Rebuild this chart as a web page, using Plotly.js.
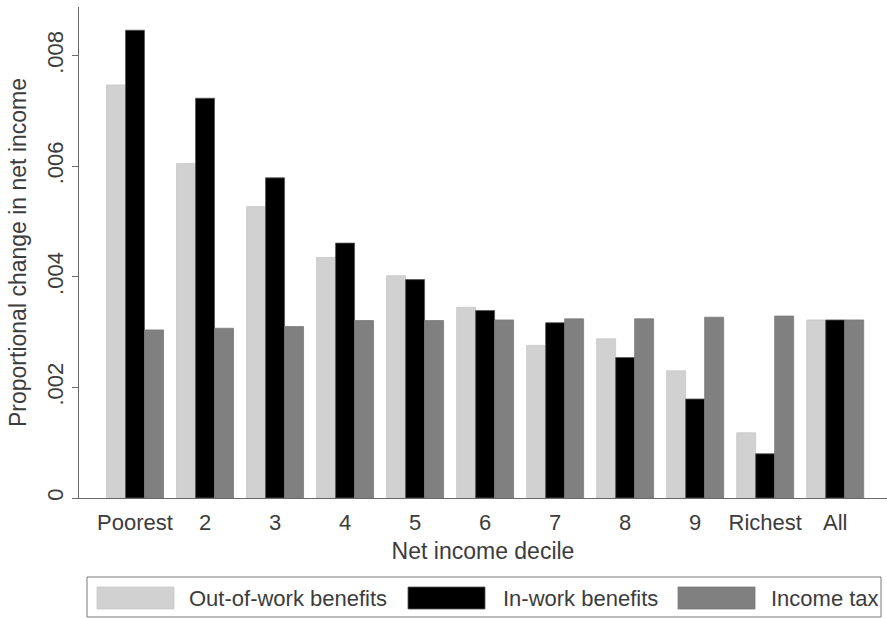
<!DOCTYPE html>
<html>
<head>
<meta charset="utf-8">
<script src="https://cdn.plot.ly/plotly-3.0.1.min.js"></script>
<style>html,body{margin:0;padding:0;background:#fff;}#chart{width:887px;height:619px;}</style>
</head>
<body>
<div id="chart"></div>
<script>
const categories = ["Poorest", "2", "3", "4", "5", "6", "7", "8", "9", "Richest", "All"];
const seriesNames = ["Out-of-work benefits", "In-work benefits", "Income tax"];
const outOfWork = [0.00747, 0.00605, 0.00527, 0.00435, 0.00402, 0.00345, 0.00276, 0.00288, 0.00230, 0.00118, 0.00322];
const inWork    = [0.00846, 0.00723, 0.00579, 0.00461, 0.00395, 0.00339, 0.00317, 0.00254, 0.00179, 0.00080, 0.00322];
const incomeTax = [0.00304, 0.00307, 0.00310, 0.00321, 0.00321, 0.00322, 0.00324, 0.00324, 0.00327, 0.00329, 0.00322];
const yTickVals = [0, 0.002, 0.004, 0.006, 0.008];
const yTickText = ["0", ".002", ".004", ".006", ".008"];
const colors = ["#d0d1d0", "#000000", "#808080"];
const lineColors = ["#c8c8c8", "#555555", "#7a7a7a"];

const W = 887, H = 619;
const mL = 79, mR = 0, mT = 7, mB = 121;
const plotW = W - mL - mR, plotH = H - mT - mB;
const px = x => (x - mL) / plotW;
const py = y => (H - mB - y) / plotH;

const font = "Liberation Sans, Arial, Helvetica, sans-serif";
const textColor = "#3c3c3c";

const values = [outOfWork, inWork, incomeTax];
const traces = values.map((v, i) => ({
  type: "bar",
  x: categories,
  y: v,
  name: seriesNames[i],
  marker: {color: colors[i], line: {color: lineColors[i], width: 0.8}},
  showlegend: false,
  hoverinfo: "x+y+name"
}));

// custom legend (Stata-style)
const swatchX = [[97, 174], [408, 485], [678, 755]];
const labelX = [187, 501, 769];
const shapes = [{
  type: "rect", xref: "paper", yref: "paper",
  x0: px(87), x1: px(881), y0: py(577), y1: py(617),
  line: {color: "#7a7a7a", width: 1}, fillcolor: "rgba(0,0,0,0)"
}];
const annotations = [];
seriesNames.forEach((n, i) => {
  shapes.push({
    type: "rect", xref: "paper", yref: "paper",
    x0: px(swatchX[i][0]), x1: px(swatchX[i][1]), y0: py(587), y1: py(609),
    line: {color: lineColors[i], width: 0.8}, fillcolor: colors[i]
  });
  annotations.push({
    xref: "paper", yref: "paper", x: px(labelX[i]), y: py(598),
    xanchor: "left", yanchor: "middle", showarrow: false,
    text: n, font: {family: font, size: 22, color: textColor}
  });
});

const layout = {
  width: W, height: H,
  margin: {l: mL, r: mR, t: mT, b: mB, pad: 0},
  paper_bgcolor: "#ffffff", plot_bgcolor: "#ffffff",
  barmode: "group", bargap: 0.186, bargroupgap: 0,
  font: {family: font, size: 22, color: textColor},
  xaxis: {
    type: "category", range: [-0.8, 10.74],
    showline: true, linecolor: "#6a6a6a", linewidth: 1.2,
    ticks: "outside", ticklen: 4, tickcolor: "rgba(0,0,0,0)",
    tickfont: {family: font, size: 22, color: textColor},
    showgrid: false, zeroline: false, fixedrange: true,
    title: {text: "Net income decile", font: {family: font, size: 23, color: textColor}, standoff: 9}
  },
  yaxis: {
    range: [0, 0.00888],
    tickvals: yTickVals, ticktext: yTickText, tickangle: -90,
    showline: true, linecolor: "#6a6a6a", linewidth: 1.2,
    ticks: "outside", ticklen: 6, tickcolor: "#6a6a6a",
    tickfont: {family: font, size: 22, color: textColor},
    showgrid: false, zeroline: false, fixedrange: true,
    title: {text: "Proportional change in net income", font: {family: font, size: 23, color: textColor}, standoff: 10}
  },
  shapes: shapes,
  annotations: annotations
};

Plotly.newPlot("chart", traces, layout, {displayModeBar: false, staticPlot: true});
</script>
</body>
</html>
